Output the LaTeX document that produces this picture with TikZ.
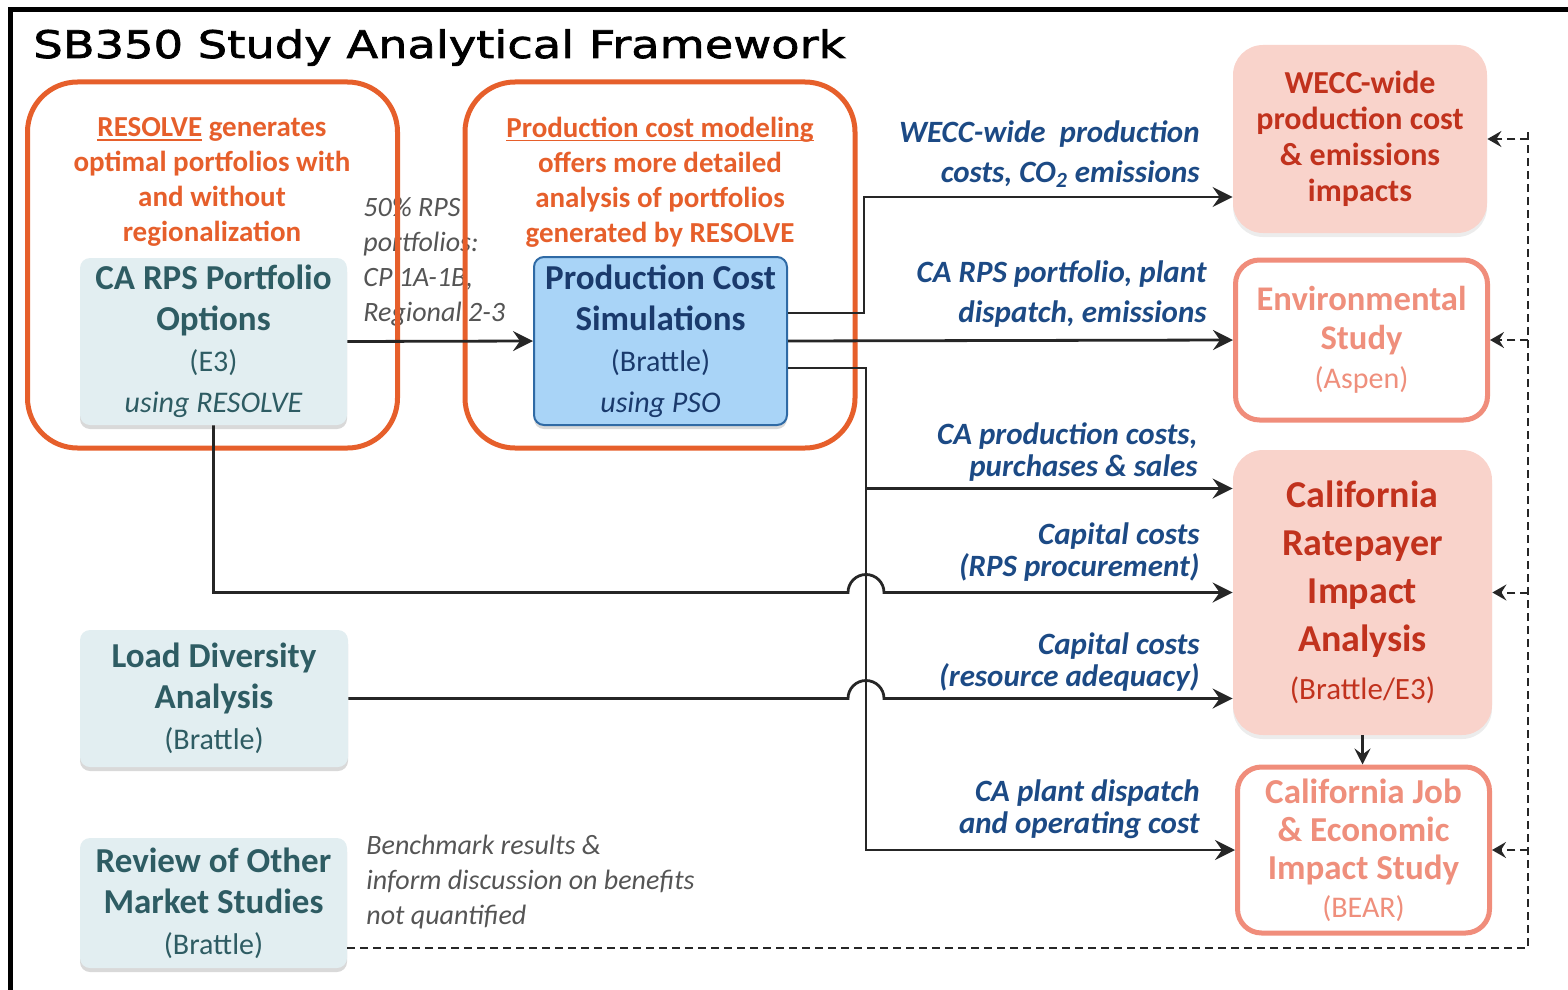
\documentclass[tikz,border=0pt]{standalone}
\usepackage{fontspec}
\setmainfont{Carlito}
\newfontfamily\titlefont[FakeStretch=1.22,FakeBold=1.8]{DejaVu Sans}
\usetikzlibrary{positioning,calc,shadows,arrows.meta}

\definecolor{noteorange}{HTML}{E65F2B}
\definecolor{tealtext}{HTML}{2E5C63}
\definecolor{grayfill}{HTML}{E2EEF1}
\definecolor{bluefill}{HTML}{A9D4F7}
\definecolor{blueline}{HTML}{2F6AA5}
\definecolor{navytext}{HTML}{1A3A6C}
\definecolor{labelblue}{HTML}{1C4A85}
\definecolor{pinkfill}{HTML}{F9D3CB}
\definecolor{redtext}{HTML}{C1321D}
\definecolor{salmon}{HTML}{F08D7B}
\definecolor{salmontext}{HTML}{EF8F7C}
\definecolor{notegray}{HTML}{555555}

\newcommand{\minor}[1]{{\fontsize{15}{18}\selectfont\mdseries #1}}
\newcommand{\noteline}[1]{\setbox0\hbox{#1}\rlap{\rule[-2pt]{\wd0}{0.7pt}}\box0\relax}

\begin{document}
\begin{tikzpicture}[x=0.5pt, y=-0.5pt,
  flow/.style = {draw=black!85, line width=1.4pt, -{Stealth[length=10pt,width=10pt,inset=3.5pt]}},
  feedback/.style = {draw=black!85, line width=1pt, dash pattern=on 4pt off 2.5pt},
  inputbox/.style = {fill=grayfill, rounded corners=5pt, text=tealtext, align=center, inner sep=0pt,
    font=\fontsize{17.5}{20.5}\selectfont\bfseries,
    drop shadow={shadow xshift=0pt, shadow yshift=-2pt, opacity=0.3}},
  simbox/.style = {inputbox, draw=blueline, line width=1pt, fill=bluefill, text=navytext},
  impactbox/.style = {fill=pinkfill, rounded corners=15pt, text=redtext, align=center, inner sep=0pt,
    drop shadow={shadow xshift=0pt, shadow yshift=-2pt, opacity=0.15}},
  studybox/.style = {draw=salmon, line width=2.5pt, fill=white, rounded corners=12pt, text=salmontext,
    align=center, inner sep=0pt, font=\fontsize{17.3}{19.5}\selectfont\bfseries},
  noteframe/.style = {draw=noteorange, line width=2.5pt, rounded corners=25pt, inner sep=0pt},
  notetext/.style = {text=noteorange, align=center, inner sep=0pt, font=\fontsize{14.5}{17.5}\selectfont\bfseries},
  edgelabel/.style = {text=labelblue, align=right, anchor=east, inner sep=0pt,
    font=\fontsize{15.5}{#1}\selectfont\bfseries\itshape},
  grayitalic/.style = {text=notegray, align=left, anchor=west, inner sep=0pt,
    font=\fontsize{14}{17.5}\selectfont\itshape}
]
\useasboundingbox (0,0) rectangle (1568,990);
\draw[line width=2.5pt] (10,990) -- (10,10) -- (1568,10);
\node[anchor=base west, inner sep=0pt, font=\titlefont\fontsize{19}{22}\selectfont] (title) at (33,58) {SB350 Study Analytical Framework};

\node[inputbox, minimum width=133.5pt, minimum height=83.5pt] (rps) at (213.5,341.5) {CA RPS Portfolio\\Options\\\minor{(E3)}\\\minor{\itshape using RESOLVE}};
\node[simbox, minimum width=126.5pt, minimum height=84pt] (pcs) at (660.5,341) {Production Cost\\Simulations\\\minor{(Brattle)}\\\minor{\itshape using PSO}};
\node[inputbox, minimum width=134pt, minimum height=68.5pt] (load) at (214,698.5) {Load Diversity\\Analysis\\\minor{(Brattle)}};
\node[inputbox, minimum width=133.5pt, minimum height=65pt] (review) at (213.5,903) {Review of Other\\Market Studies\\\minor{(Brattle)}};

\node[impactbox, minimum width=127pt, minimum height=94pt, font=\fontsize{16}{18}\selectfont\bfseries] (wecc) at (1360,139) {WECC-wide\\production cost\\\& emissions\\impacts};
\node[studybox, minimum width=126pt, minimum height=80pt] (env) at (1361.5,340) {Environmental\\Study\\\minor{(Aspen)}};
\node[impactbox, minimum width=129.5pt, minimum height=142.5pt, font=\fontsize{19}{24}\selectfont\bfseries] (rate) at (1362.5,592.5) {California\\Ratepayer\\Impact\\Analysis\\{\fontsize{15.5}{18}\selectfont\mdseries (Brattle/E3)}};
\node[studybox, minimum width=126pt, minimum height=83pt, font=\fontsize{17.5}{19}\selectfont\bfseries] (job) at (1363.5,850) {California Job\\\& Economic\\Impact Study\\\minor{(BEAR)}};

\node[grayitalic] (portfoliolabel) at (363,262) {50\% RPS\\portfolios:\\CP 1A-1B,\\Regional 2-3};
\node[grayitalic] (benchmarklabel) at (366,882.5) {Benchmark results \&\\inform discussion on benefits\\not quantified};

\node[edgelabel=20pt] (wecclabel) at (1200,154) {WECC-wide\ \ production\\costs, CO\textsubscript{2} emissions};
\node[edgelabel=20pt] (envlabel) at (1207,294) {CA RPS portfolio, plant\\dispatch, emissions};
\node[edgelabel=16pt] (saleslabel) at (1198,452) {CA production costs,\\purchases \& sales};
\node[edgelabel=16pt] (capitallabel) at (1200,552) {Capital costs\\(RPS procurement)};
\node[edgelabel=16pt] (adequacylabel) at (1200,662) {Capital costs\\(resource adequacy)};
\node[edgelabel=16pt] (dispatchlabel) at (1200,809) {CA plant dispatch\\and operating cost};

\node[notetext] (resolvenote) at (212,182) {\noteline{RESOLVE} generates\\optimal portfolios with\\and without\\regionalization};
\node[notetext] (pcmnote) at (660,182) {\noteline{Production cost modeling}\\offers more detailed\\analysis of portfolios\\generated by RESOLVE};
\node[noteframe, minimum width=185pt, minimum height=183pt] (resolveframe) at (212.5,265) {};
\node[noteframe, minimum width=195pt, minimum height=183pt] (pcmframe) at (660,265) {};

\coordinate (bus) at ([xshift=39pt,yshift=-13.5pt]pcs.east);
\coordinate (in1) at ([yshift=52pt]rate.west);
\coordinate (in3) at ([yshift=-53pt]rate.west);
\coordinate (loop) at ([xshift=20.5pt]wecc.east);

\draw[flow] (rps.east) -- (pcs.west);
\draw[flow] ([yshift=14pt]pcs.east) -- ++(38pt,0) |- ([yshift=-29pt]wecc.west);
\draw[flow] (pcs.east) -- (env.west);
\draw[flow] ([yshift=-13.5pt]pcs.east) -- (bus) |- (job.west);
\draw[flow] (bus |- in1) -- (in1);
\draw[flow] (rps.south) |- ($(bus |- rate.west)+(-9pt,0)$) arc[start angle=180, end angle=0, radius=9pt] -- (rate.west);
\draw[flow] (load.east) -- ($(bus |- load.east)+(-9pt,0)$) arc[start angle=180, end angle=0, radius=9pt] -- (in3);
\draw[flow, -{Stealth[length=8pt,width=8pt,inset=3pt]}] (rate.south) -- (rate.south |- job.north);

\draw[feedback] ([yshift=-22.5pt]review.east) -| ([yshift=5pt]loop);
\foreach \n in {wecc,env,rate,job}
  \draw[feedback, -{Stealth[length=7pt,width=8pt,inset=2.5pt]}] (loop |- \n.east) -- (\n.east);
\end{tikzpicture}
\end{document}
